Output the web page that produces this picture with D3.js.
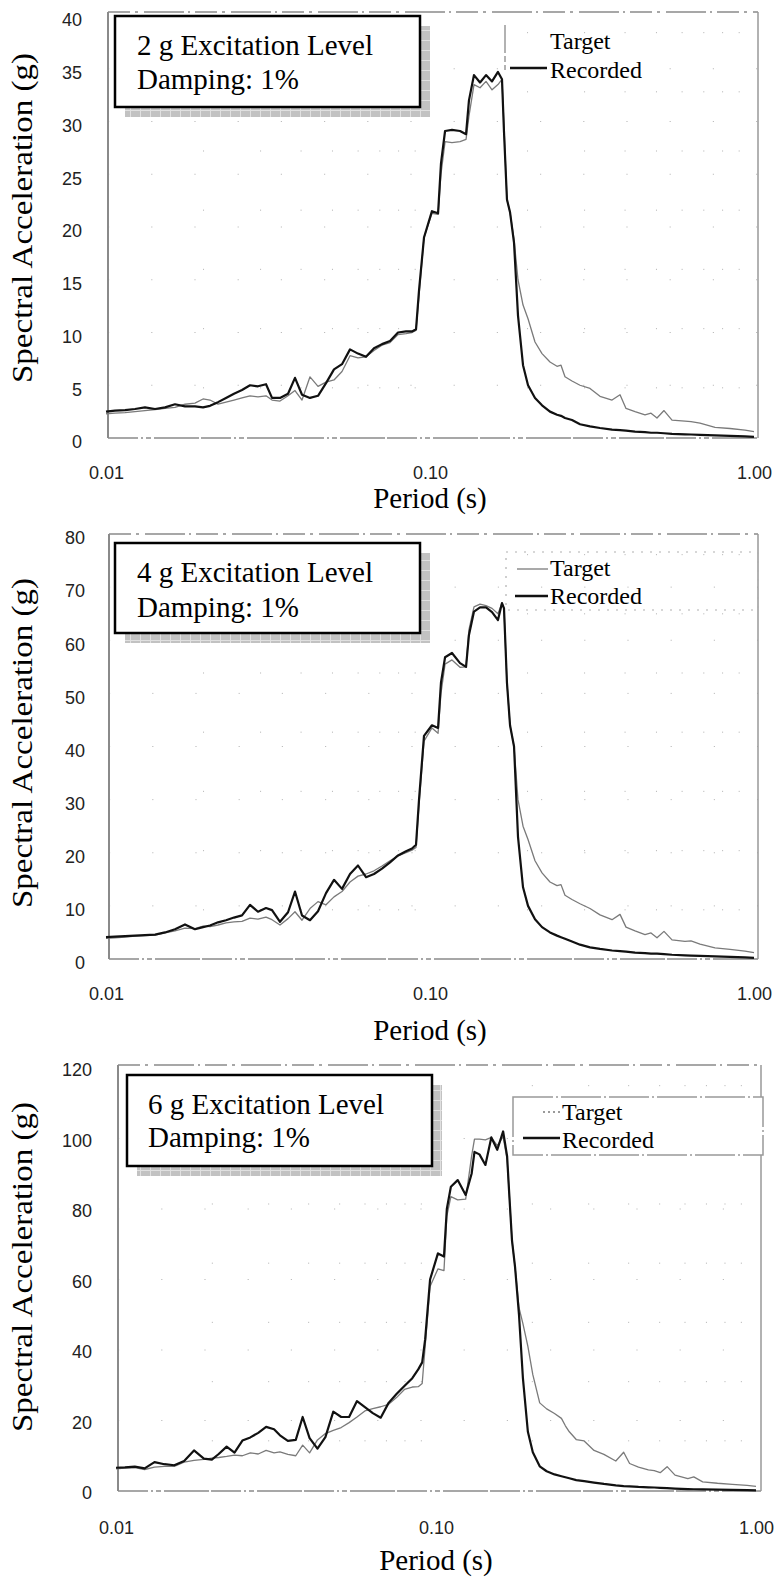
<!DOCTYPE html>
<html>
<head>
<meta charset="utf-8">
<title>Spectral Acceleration vs Period</title>
<script src="https://cdnjs.cloudflare.com/ajax/libs/d3/7.8.5/d3.min.js"></script>
<style>
  body { margin: 0; background: #fff; }
  svg { display: block; background: #fff; }
  .tick text { font-family: "Liberation Sans", Arial, sans-serif; font-size: 18px; fill: #222; }
  .serif { font-family: "Liberation Serif", "Times New Roman", Times, "DejaVu Serif", serif; fill: #000; }
</style>
</head>
<body>
<div id="chart"></div>
<script>
// periods (s), shared by all three spectra
var periods = [0.0100, 0.01066, 0.01145, 0.01229, 0.01319, 0.01417, 0.01521, 0.01633, 0.01753, 0.01882,
  0.01993, 0.02094, 0.02217, 0.02346, 0.02483, 0.02629, 0.02783, 0.02945, 0.03118, 0.03254,
  0.03444, 0.03646, 0.03831, 0.04027, 0.04262, 0.04512, 0.04776, 0.05055, 0.05351, 0.05664,
  0.05995, 0.06346, 0.06717, 0.07110, 0.07526, 0.07967, 0.08433, 0.08800, 0.09054, 0.09249,
  0.09582, 0.1014, 0.1059, 0.1081, 0.1113, 0.1169, 0.1238, 0.1292, 0.1319, 0.1367,
  0.1427, 0.1489, 0.1554, 0.1621, 0.1668, 0.1692, 0.1728, 0.1766, 0.1817, 0.1869,
  0.1937, 0.2007, 0.2109, 0.2217, 0.2346, 0.2466, 0.2537, 0.2610, 0.2743, 0.2904,
  0.3118, 0.3347, 0.3646, 0.3859, 0.4027, 0.4293, 0.4609, 0.4810, 0.5019, 0.5275,
  0.5584, 0.6124, 0.6392, 0.6813, 0.7581, 0.8433, 0.9381, 1.0];

// 2 g excitation
var target2g = [2.3, 2.35, 2.4, 2.5, 2.6, 2.7, 2.8, 2.9, 3.2, 3.3,
  3.7, 3.6, 3.2, 3.4, 3.6, 3.8, 4.0, 3.9, 4.0, 3.6,
  3.5, 4.0, 4.5, 3.6, 5.8, 4.9, 5.3, 5.5, 6.3, 7.8,
  7.6, 7.7, 8.3, 8.8, 9.05, 9.8, 9.9, 10.0, 10.2, 13.5,
  19.0, 21.3, 21.2, 25.0, 28.1, 28.0, 28.1, 28.3, 30.5, 33.5,
  33.2, 33.8, 33.0, 33.5, 34.0, 29.5, 22.6, 21.4, 18.8, 15.0,
  12.6, 11.3, 9.1, 8.0, 7.2, 6.8, 6.9, 5.8, 5.4, 5.0,
  4.7, 3.95, 3.6, 4.1, 2.8, 2.5, 2.2, 2.35, 1.9, 2.6,
  1.7, 1.6, 1.55, 1.4, 1.0, 0.9, 0.75, 0.6];
var recorded2g = [2.5, 2.6, 2.65, 2.75, 2.9, 2.75, 2.9, 3.2, 3.0, 3.0,
  2.9, 3.05, 3.4, 3.8, 4.2, 4.55, 5.0, 4.9, 5.1, 3.8,
  3.8, 4.2, 5.7, 4.1, 3.8, 4.0, 5.2, 6.5, 7.0, 8.4,
  8.0, 7.7, 8.5, 8.9, 9.2, 10.0, 10.1, 10.1, 10.3, 14.0,
  19.0, 21.5, 21.3, 26.0, 29.1, 29.2, 29.1, 28.8, 32.0, 34.4,
  33.7, 34.4, 33.8, 34.7, 34.0, 29.0, 22.6, 21.4, 18.5, 11.6,
  6.9, 5.0, 3.8, 3.1, 2.5, 2.2, 2.1, 1.9, 1.7, 1.3,
  1.1, 0.95, 0.8, 0.75, 0.7, 0.6, 0.55, 0.5, 0.5, 0.45,
  0.4, 0.35, 0.33, 0.3, 0.25, 0.2, 0.15, 0.1];

// 4 g excitation
var target4g = [3.9, 4.0, 4.1, 4.3, 4.4, 4.5, 4.9, 5.3, 5.8, 5.7,
  6.2, 6.1, 6.4, 6.8, 7.0, 7.1, 7.7, 7.5, 7.9, 7.4,
  6.4, 7.6, 8.9, 7.3, 9.5, 10.8, 10.2, 11.7, 12.7, 14.5,
  15.6, 16.0, 16.6, 17.5, 18.5, 19.4, 20.0, 20.5, 21.0, 29.0,
  41.0, 43.5, 42.5, 50.0, 55.5, 56.3, 54.9, 55.0, 62.0, 66.3,
  66.8, 66.5, 66.0, 65.0, 67.0, 66.0, 52.0, 44.0, 40.0, 30.0,
  25.0, 22.5, 18.5, 16.2, 14.5, 13.8, 14.0, 12.0, 11.2, 10.4,
  9.5, 8.3, 7.4, 8.4, 6.0, 5.3, 4.6, 4.9, 4.0, 5.2,
  3.6, 3.3, 3.4, 2.8, 2.1, 1.8, 1.5, 1.2];
var recorded4g = [4.1, 4.2, 4.3, 4.4, 4.5, 4.6, 5.0, 5.6, 6.5, 5.6,
  6.0, 6.3, 6.9, 7.3, 7.8, 8.2, 10.2, 8.9, 9.6, 9.2,
  7.0, 8.8, 12.7, 8.2, 7.3, 9.0, 12.4, 14.9, 13.2, 16.0,
  17.6, 15.4, 16.0, 17.0, 18.2, 19.5, 20.3, 20.8, 21.5, 30.0,
  42.0, 44.0, 43.5, 52.0, 56.8, 57.6, 55.7, 55.0, 61.0, 65.4,
  66.2, 66.2, 65.3, 63.8, 67.0, 66.0, 52.0, 44.0, 40.0, 23.0,
  13.5, 10.0, 7.5, 6.0, 5.0, 4.4, 4.1, 3.8, 3.3, 2.7,
  2.2, 1.9, 1.6, 1.5, 1.4, 1.2, 1.1, 1.0, 1.0, 0.9,
  0.8, 0.7, 0.65, 0.6, 0.5, 0.4, 0.3, 0.2];

// 6 g excitation
var target6g = [6.3, 6.5, 6.6, 6.1, 6.8, 7.0, 7.0, 8.2, 8.7, 9.0,
  9.3, 9.5, 9.8, 10.2, 10.0, 10.8, 10.5, 11.5, 10.8, 11.1,
  10.4, 10.0, 13.0, 10.8, 14.5, 16.3, 17.2, 18.0, 19.4, 21.0,
  22.7, 23.4, 23.9, 24.6, 26.5, 28.8, 29.5, 29.6, 30.5, 41.0,
  58.0, 63.0, 62.5, 78.0, 83.5, 82.6, 82.8, 95.0, 99.8, 99.8,
  99.6, 100.3, 98.0, 100.5, 94.0, 85.0, 71.0, 63.6, 52.0, 47.5,
  41.0, 33.0, 25.0, 23.3, 22.0, 20.6, 18.5, 16.8, 14.6, 14.2,
  11.5, 10.4, 8.5, 11.0, 7.8, 6.8, 6.0, 5.8, 5.2, 6.9,
  4.5, 3.5, 4.0, 2.6, 2.2, 1.9, 1.6, 1.3];
var recorded6g = [6.6, 6.7, 6.9, 6.4, 8.2, 7.6, 7.3, 8.5, 11.5, 9.2,
  8.9, 10.5, 12.6, 10.9, 14.3, 15.2, 16.5, 18.2, 17.5, 15.8,
  14.2, 14.5, 21.0, 15.0, 12.0, 15.3, 22.5, 21.0, 21.0, 25.5,
  23.8, 22.1, 20.8, 25.0, 27.5, 29.8, 32.0, 34.5, 36.5, 43.0,
  60.0, 67.4, 66.5, 80.0, 86.3, 88.2, 84.0, 90.0, 96.2, 95.5,
  92.5, 100.3, 96.8, 102.0, 95.0, 85.0, 71.0, 63.6, 50.0, 32.0,
  16.8, 11.0, 7.0, 5.6, 4.7, 4.2, 3.9, 3.6, 3.1, 2.8,
  2.4, 2.0, 1.6, 1.4, 1.3, 1.15, 1.05, 1.0, 0.9, 0.8,
  0.7, 0.55, 0.5, 0.45, 0.4, 0.3, 0.25, 0.2];

var yTicks2g = [0, 5, 10, 15, 20, 25, 30, 35, 40];
var yTicks4g = [0, 10, 20, 30, 40, 50, 60, 70, 80];
var yTicks6g = [0, 20, 40, 60, 80, 100, 120];
var xTicks = [0.01, 0.1, 1];
var xTickLabels = ['0.01', '0.10', '1.00'];
var gridPeriods = [0.02, 0.03, 0.04, 0.05, 0.06, 0.07, 0.08, 0.09, 0.2, 0.3, 0.4, 0.5, 0.6, 0.7, 0.8, 0.9];
var levelTitles = ['2 g Excitation Level', '4 g Excitation Level', '6 g Excitation Level'];
var dampingLabel = 'Damping: 1%';
var legendLabels = ['Target', 'Recorded'];
var xTitle = 'Period (s)';
var yTitle = 'Spectral Acceleration (g)';

var SERIF = '"Liberation Serif", "Times New Roman", Times, "DejaVu Serif", serif';

var svg = d3.select('#chart')
  .append('svg')
  .attr('width', 779)
  .attr('height', 1582);

// hatched grey shadow behind the title boxes
var pat = svg.append('defs').append('pattern')
  .attr('id', 'hatch')
  .attr('width', 10)
  .attr('height', 10)
  .attr('patternUnits', 'userSpaceOnUse');
pat.append('rect').attr('width', 10).attr('height', 10).attr('fill', '#c2c2c2');
pat.append('path').attr('d', 'M0,0.5H10M0.5,0V10').attr('stroke', '#e0e0e0').attr('stroke-width', 1);

var panels = [
  { target: target2g, recorded: recorded2g, yTicks: yTicks2g, yMax: 40, title: levelTitles[0],
    left: 108, right: 758, top: 12, bottom: 438, xs: [106, 754], yTop: 16,
    yPad: 26, yShift: 4, xPad: 28, titleY: 508, yTitleY: 218,
    box: [115, 16, 305, 91], boxText: [137, 55, 89],
    legend: { x: 550, y: [49, 78], rec: [510, 547, 68], tgt: null, edge: [505, 25, 70] } },
  { target: target4g, recorded: recorded4g, yTicks: yTicks4g, yMax: 80, title: levelTitles[1],
    left: 109, right: 758, top: 534, bottom: 959, xs: [106, 754], yTop: 534,
    yPad: 24, yShift: 4, xPad: 28, titleY: 1040, yTitleY: 743,
    box: [115, 543, 305, 90], boxText: [137, 582, 617],
    legend: { x: 550, y: [576, 604], rec: [515, 548, 596], tgt: [517, 548, 569, null], frame: [506, 552, 252, 58] } },
  { target: target6g, recorded: recorded6g, yTicks: yTicks6g, yMax: 120, title: levelTitles[2],
    left: 118, right: 761, top: 1065, bottom: 1491, xs: [116, 756], yTop: 1068,
    yPad: 26, yShift: 2, xPad: 30, titleY: 1570, yTitleY: 1267,
    box: [127, 1075, 305, 91], boxText: [148, 1114, 1147],
    legend: { x: 562, y: [1120, 1148], rec: [523, 560, 1138], tgt: [543, 560, 1112, '2,3'], frame: [513, 1097, 250, 58], solidFrame: true } }
];

panels.forEach(drawPanel);

function drawPanel(p) {
  var x = d3.scaleLog().domain([0.01, 1]).range(p.xs);
  var y = d3.scaleLinear().domain([0, p.yMax]).range([p.bottom, p.yTop]);
  var g = svg.append('g').attr('class', 'panel');

  // sparse dotted grid, as in the scanned plot
  g.append('g').selectAll('line')
    .data(gridPeriods)
    .enter()
    .append('line')
    .attr('x1', function (d) { return x(d); })
    .attr('x2', function (d) { return x(d); })
    .attr('y1', p.top + 20)
    .attr('y2', p.bottom)
    .attr('stroke', '#bdbdbd')
    .attr('stroke-dasharray', '1.2,58');
  g.append('g').selectAll('line')
    .data(p.yTicks.slice(1, -1))
    .enter()
    .append('line')
    .attr('x1', p.left)
    .attr('x2', p.right)
    .attr('y1', function (d) { return y(d); })
    .attr('y2', function (d) { return y(d); })
    .attr('stroke', '#bdbdbd')
    .attr('stroke-dasharray', '1.2,42');

  // frame
  g.append('line').attr('x1', p.left).attr('x2', p.right).attr('y1', p.top).attr('y2', p.top)
    .attr('stroke', '#8a8a8a').attr('stroke-width', 1.5).attr('stroke-dasharray', '22,5,3,6,40,4,2,5');
  g.append('line').attr('x1', p.left).attr('x2', p.right).attr('y1', p.bottom).attr('y2', p.bottom)
    .attr('stroke', '#8a8a8a').attr('stroke-width', 1.5).attr('stroke-dasharray', '30,3,2,3,5,3,45,2');
  g.append('line').attr('x1', p.left).attr('x2', p.left).attr('y1', p.top).attr('y2', p.bottom)
    .attr('stroke', '#8a8a8a').attr('stroke-width', 2);
  g.append('line').attr('x1', p.right).attr('x2', p.right).attr('y1', p.top).attr('y2', p.bottom)
    .attr('stroke', '#999').attr('stroke-width', 1.5);

  // spectra
  var line = d3.line()
    .x(function (d, i) { return x(periods[i]); })
    .y(function (d) { return y(d); });
  g.append('path')
    .datum(p.target)
    .attr('d', line)
    .attr('fill', 'none')
    .attr('stroke', '#7a7a7a')
    .attr('stroke-width', 1.3)
    .attr('stroke-linejoin', 'round');
  g.append('path')
    .datum(p.recorded)
    .attr('d', line)
    .attr('fill', 'none')
    .attr('stroke', '#111')
    .attr('stroke-width', 2.2)
    .attr('stroke-linejoin', 'round');

  // axes
  g.append('g')
    .attr('transform', 'translate(' + p.left + ',' + p.yShift + ')')
    .call(d3.axisLeft(y).tickValues(p.yTicks).tickSize(0).tickPadding(p.yPad))
    .call(function (a) { a.select('.domain').remove(); });
  g.append('g')
    .attr('transform', 'translate(0,' + p.bottom + ')')
    .call(d3.axisBottom(x).tickValues(xTicks).tickSize(0).tickPadding(p.xPad)
      .tickFormat(function (d, i) { return xTickLabels[i]; }))
    .call(function (a) { a.select('.domain').remove(); });

  g.append('text')
    .attr('class', 'serif')
    .attr('font-family', SERIF)
    .attr('x', x(0.1))
    .attr('y', p.titleY)
    .attr('text-anchor', 'middle')
    .attr('font-size', 29)
    .text(xTitle);
  g.append('text')
    .attr('class', 'serif')
    .attr('font-family', SERIF)
    .attr('transform', 'translate(32,' + p.yTitleY + ') rotate(-90)')
    .attr('text-anchor', 'middle')
    .attr('font-size', 30)
    .attr('textLength', 330)
    .attr('lengthAdjust', 'spacingAndGlyphs')
    .text(yTitle);

  // title box with shadow
  var b = p.box;
  g.append('rect').attr('x', b[0] + 10).attr('y', b[1] + 10).attr('width', b[2]).attr('height', b[3])
    .attr('fill', 'url(#hatch)');
  g.append('rect').attr('x', b[0]).attr('y', b[1]).attr('width', b[2]).attr('height', b[3])
    .attr('fill', '#fff').attr('stroke', '#000').attr('stroke-width', 2.5);
  g.append('text').attr('class', 'serif').attr('font-family', SERIF)
    .attr('x', p.boxText[0]).attr('y', p.boxText[1])
    .attr('font-size', 29).text(p.title);
  g.append('text').attr('class', 'serif').attr('font-family', SERIF)
    .attr('x', p.boxText[0]).attr('y', p.boxText[2])
    .attr('font-size', 29).text(dampingLabel);

  // legend
  var L = p.legend;
  if (L.frame) {
    var f = L.frame;
    g.append('rect').attr('x', f[0]).attr('y', f[1]).attr('width', f[2]).attr('height', f[3])
      .attr('fill', L.solidFrame ? '#fff' : 'none')
      .attr('stroke', L.solidFrame ? '#999' : '#b0b0b0')
      .attr('stroke-width', L.solidFrame ? 1.5 : 1.2)
      .attr('stroke-dasharray', L.solidFrame ? '40,3,2,3' : '2,7');
  }
  if (L.edge) {
    // leftover edge of the legend frame
    g.append('line').attr('x1', L.edge[0]).attr('x2', L.edge[0]).attr('y1', L.edge[1]).attr('y2', L.edge[2])
      .attr('stroke', '#999').attr('stroke-width', 1.5).attr('stroke-dasharray', '28,3,6,3');
  }
  if (L.tgt) {
    g.append('line').attr('x1', L.tgt[0]).attr('x2', L.tgt[1]).attr('y1', L.tgt[2]).attr('y2', L.tgt[2])
      .attr('stroke', '#7a7a7a').attr('stroke-width', 1.3).attr('stroke-dasharray', L.tgt[3]);
  }
  g.append('line').attr('x1', L.rec[0]).attr('x2', L.rec[1]).attr('y1', L.rec[2]).attr('y2', L.rec[2])
    .attr('stroke', '#111').attr('stroke-width', 2.4);
  g.selectAll('text.legend-text')
    .data(legendLabels)
    .enter()
    .append('text')
    .attr('class', 'serif legend-text')
    .attr('font-family', SERIF)
    .attr('x', L.x)
    .attr('y', function (d, i) { return L.y[i]; })
    .attr('font-size', 24)
    .text(function (d) { return d; });
}
</script>
</body>
</html>
